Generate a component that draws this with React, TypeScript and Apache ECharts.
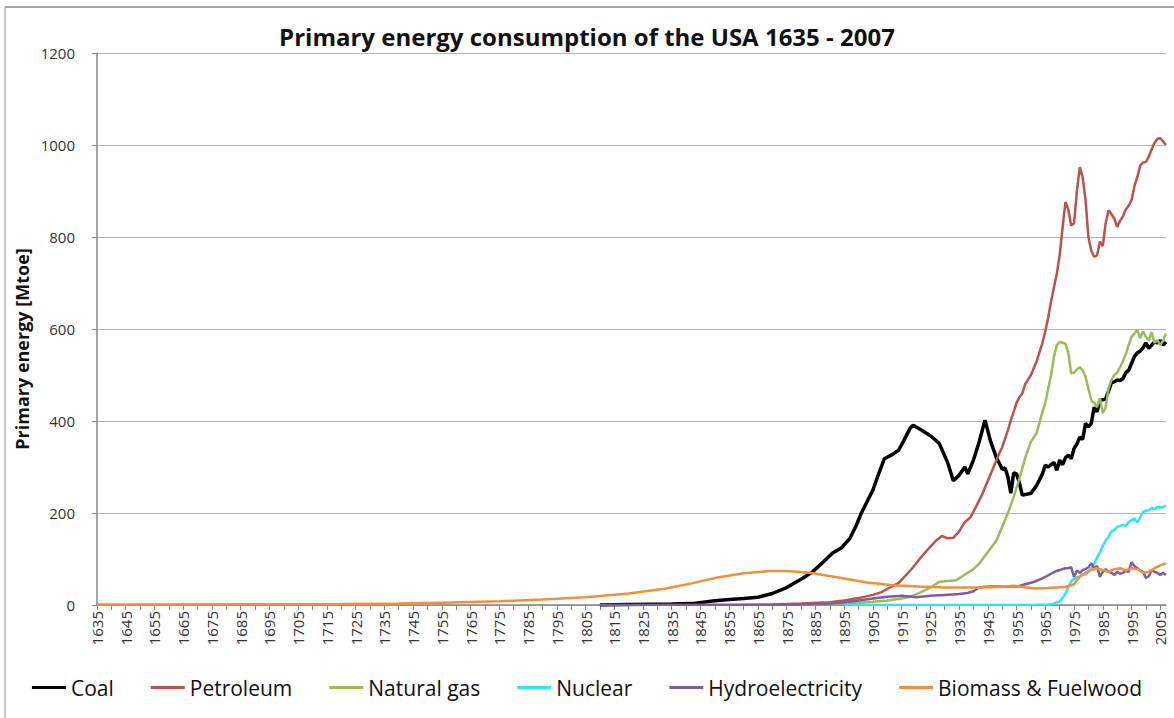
import React, { useEffect, useRef } from "react";
import * as echarts from "echarts";

const seriesNames = ["Coal", "Petroleum", "Natural gas", "Nuclear", "Hydroelectricity", "Biomass & Fuelwood"];
const seriesColors = ["#000000", "#c0504d", "#9bbb59", "#2ee6ef", "#7b5ea3", "#f0903c"];
const yTicks = [0, 200, 400, 600, 800, 1000, 1200];

const coal: [number, number][] = [
  [1810, 0], [1820, 1], [1835, 2], [1842, 3], [1850, 9], [1855, 12], [1860, 14], [1865, 17], [1870, 25],
  [1875, 38], [1880, 56], [1884, 72], [1888, 95], [1891, 113], [1894, 124], [1897, 145], [1899, 170],
  [1901, 200], [1903, 225], [1905, 250], [1907, 285], [1909, 318], [1912, 328], [1914, 337], [1916, 360],
  [1918, 385], [1919, 391], [1922, 380], [1925, 368], [1928, 352], [1931, 310], [1933, 270], [1935, 282],
  [1937, 300], [1938, 285], [1940, 315], [1942, 355], [1944, 402], [1946, 355], [1948, 320], [1949, 308],
  [1950, 295], [1951, 298], [1952, 278], [1953, 243], [1954, 287], [1955, 285], [1956, 265], [1957, 239],
  [1958, 240], [1960, 243], [1962, 260], [1964, 285], [1965, 304], [1966, 300], [1968, 310], [1969, 293],
  [1970, 315], [1971, 305], [1972, 320], [1973, 326], [1974, 318], [1975, 340], [1976, 350], [1977, 365],
  [1978, 360], [1979, 395], [1980, 387], [1981, 395], [1982, 430], [1983, 420], [1984, 445], [1985, 446],
  [1986, 448], [1987, 465], [1988, 483], [1989, 485], [1990, 489], [1991, 488], [1992, 492], [1993, 505],
  [1994, 510], [1995, 525], [1996, 540], [1997, 548], [1998, 552], [1999, 559], [2000, 570], [2001, 558],
  [2002, 565], [2003, 572], [2004, 570], [2005, 575], [2006, 565], [2007, 572],
];

const petroleum: [number, number][] = [
  [1860, 0], [1870, 1], [1880, 3], [1890, 6], [1895, 10], [1900, 15], [1905, 22], [1908, 28], [1911, 38],
  [1914, 48], [1917, 68], [1919, 82], [1921, 98], [1924, 120], [1927, 140], [1929, 150], [1931, 145],
  [1933, 146], [1935, 160], [1937, 180], [1939, 191], [1941, 215], [1943, 240], [1945, 270], [1947, 300],
  [1949, 330], [1950, 343], [1952, 380], [1953, 402], [1954, 420], [1955, 440], [1956, 452], [1957, 460],
  [1958, 480], [1960, 500], [1962, 530], [1964, 570], [1965, 595], [1966, 625], [1967, 660], [1968, 690],
  [1969, 720], [1970, 760], [1971, 820], [1972, 876], [1973, 860], [1974, 825], [1975, 830], [1976, 900],
  [1977, 952], [1978, 930], [1979, 880], [1980, 800], [1981, 770], [1982, 757], [1983, 760], [1984, 790],
  [1985, 780], [1986, 830], [1987, 858], [1988, 850], [1989, 840], [1990, 822], [1991, 835], [1992, 845],
  [1993, 860], [1994, 868], [1995, 880], [1996, 910], [1997, 930], [1998, 955], [1999, 962], [2000, 963],
  [2001, 975], [2002, 990], [2003, 1005], [2004, 1013], [2005, 1015], [2006, 1008], [2007, 1000],
];

const naturalGas: [number, number][] = [
  [1880, 0], [1885, 1], [1890, 3], [1895, 4], [1900, 5], [1905, 7], [1910, 10], [1915, 14], [1918, 18],
  [1921, 26], [1925, 38], [1928, 50], [1931, 52], [1934, 54], [1936, 62], [1938, 70], [1940, 78],
  [1942, 90], [1945, 115], [1948, 140], [1950, 170], [1952, 200], [1954, 235], [1956, 275], [1958, 320],
  [1960, 355], [1962, 374], [1964, 420], [1965, 439], [1966, 470], [1967, 500], [1968, 540], [1969, 565],
  [1970, 572], [1971, 570], [1972, 568], [1973, 548], [1974, 504], [1975, 505], [1976, 512], [1977, 517],
  [1978, 510], [1979, 496], [1980, 470], [1981, 445], [1982, 439], [1983, 430], [1984, 450], [1985, 417],
  [1986, 430], [1987, 470], [1988, 489], [1989, 500], [1990, 505], [1991, 517], [1992, 530], [1993, 545],
  [1994, 565], [1995, 583], [1996, 590], [1997, 598], [1998, 580], [1999, 595], [2000, 583], [2001, 575],
  [2002, 593], [2003, 570], [2004, 576], [2005, 565], [2006, 575], [2007, 590],
];

const nuclear: [number, number][] = [
  [1895, 0], [1957, 0], [1962, 0.5], [1966, 1], [1968, 3], [1969, 6], [1970, 8], [1971, 15], [1972, 25],
  [1973, 38], [1974, 52], [1975, 57], [1976, 60], [1977, 62], [1978, 67], [1979, 66], [1980, 72],
  [1981, 80], [1982, 90], [1983, 103], [1984, 115], [1985, 128], [1986, 140], [1987, 148], [1988, 160],
  [1989, 163], [1990, 170], [1991, 172], [1992, 174], [1993, 172], [1994, 180], [1995, 185], [1996, 188],
  [1997, 180], [1998, 190], [1999, 202], [2000, 205], [2001, 206], [2002, 211], [2003, 208], [2004, 213],
  [2005, 212], [2006, 213], [2007, 216],
];

const hydro: [number, number][] = [
  [1810, 0], [1850, 0.5], [1880, 1], [1890, 3], [1895, 6], [1900, 10], [1905, 14], [1910, 18], [1915, 20],
  [1920, 17], [1925, 20], [1930, 22], [1935, 24], [1938, 26], [1940, 30], [1942, 38], [1945, 40],
  [1950, 40], [1955, 40], [1958, 45], [1961, 50], [1963, 55], [1965, 61], [1967, 68], [1969, 74],
  [1970, 76], [1971, 78], [1972, 80], [1973, 80], [1974, 82], [1975, 61], [1976, 75], [1977, 70],
  [1978, 76], [1979, 78], [1980, 82], [1981, 91], [1982, 80], [1983, 85], [1984, 61], [1985, 72],
  [1986, 78], [1987, 72], [1988, 70], [1989, 65], [1990, 72], [1991, 68], [1992, 70], [1993, 74],
  [1994, 72], [1995, 93], [1996, 85], [1997, 80], [1998, 75], [1999, 72], [2000, 59], [2001, 62],
  [2002, 76], [2003, 72], [2004, 70], [2005, 65], [2006, 70], [2007, 65],
];

const biomass: [number, number][] = [
  [1635, 1], [1700, 1.5], [1720, 2], [1740, 3], [1755, 5], [1775, 8], [1790, 12], [1805, 17], [1820, 25],
  [1833, 36], [1842, 47], [1851, 60], [1860, 69], [1869, 74], [1875, 74], [1883, 70], [1893, 60],
  [1903, 49], [1912, 43], [1921, 40], [1930, 38], [1942, 38], [1949, 39], [1954, 42], [1961, 36],
  [1966, 37], [1972, 39], [1975, 45], [1977, 62], [1980, 74], [1983, 80], [1985, 76], [1987, 72],
  [1989, 78], [1991, 80], [1993, 75], [1995, 80], [1997, 78], [1999, 70], [2001, 72], [2003, 80],
  [2005, 86], [2007, 91],
];

const seriesData = [coal, petroleum, naturalGas, nuclear, hydro, biomass];
const lineWidths = [3.5, 2.5, 2.5, 2.5, 2.5, 2.5];

const FONT = "'Open Sans', 'Noto Sans', sans-serif";

export default function App() {
  const ref = useRef<HTMLDivElement>(null);
  useEffect(() => {
    document.body.style.margin = "0";
    const chart = echarts.init(ref.current!, undefined, { renderer: "svg" });
    chart.setOption({
      animation: false,
      backgroundColor: "#ffffff",
      textStyle: { fontFamily: FONT },
      title: {
        text: "Primary energy consumption of the USA 1635 - 2007",
        left: "center",
        top: 19,
        textStyle: { fontFamily: FONT, fontSize: 24, fontWeight: "bold", color: "#111111" },
      },
      graphic: [
        { type: "line", shape: { x1: 5, y1: 7, x2: 1174, y2: 7 }, style: { stroke: "#a6a6a6", lineWidth: 2 } },
        { type: "line", shape: { x1: 5, y1: 7, x2: 5, y2: 718 }, style: { stroke: "#b3b3b3", lineWidth: 1.5 } },
        {
          type: "text",
          x: 22,
          y: 349,
          rotation: Math.PI / 2,
          style: {
            text: "Primary energy [Mtoe]",
            fontFamily: FONT,
            fontSize: 18,
            fontWeight: "bold",
            fill: "#111111",
            textAlign: "center",
            textVerticalAlign: "middle",
          },
        },
      ],
      legend: {
        data: seriesNames,
        bottom: 15,
        left: "center",
        icon: "rect",
        itemWidth: 34,
        itemHeight: 3,
        itemGap: 37,
        textStyle: { fontFamily: FONT, fontSize: 21, color: "#111111" },
      },
      grid: { left: 97, right: 8, top: 53, bottom: 113, containLabel: false },
      xAxis: {
        type: "value",
        min: 1635,
        max: 2007,
        interval: 5,
        axisLine: { show: true, lineStyle: { color: "#868686", width: 1.5 } },
        axisTick: { show: true, length: 5, lineStyle: { color: "#868686" } },
        splitLine: { show: false },
        axisLabel: {
          rotate: 90,
          fontSize: 15,
          color: "#333333",
          fontFamily: FONT,
          margin: 6,
          showMaxLabel: false,
          formatter: (v: number) => ((v - 1635) % 10 === 0 ? String(v) : ""),
        },
      },
      yAxis: {
        type: "value",
        min: yTicks[0],
        max: yTicks[yTicks.length - 1],
        interval: 200,
        axisLine: { show: true, lineStyle: { color: "#868686", width: 1.5 } },
        axisTick: { show: true, length: 5, lineStyle: { color: "#868686" } },
        splitLine: { show: true, lineStyle: { color: "#b5b5b5", width: 1.2 } },
        axisLabel: {
          fontSize: 15,
          color: "#333333",
          fontFamily: FONT,
          margin: 22,
          formatter: (v: number) => String(v),
        },
      },
      series: seriesNames.map((name, i) => ({
        name,
        type: "line",
        data: seriesData[i],
        showSymbol: false,
        symbol: "none",
        smooth: false,
        color: seriesColors[i],
        lineStyle: { color: seriesColors[i], width: lineWidths[i] },
        z: 2 + i,
      })),
    });
    return () => chart.dispose();
  }, []);
  return (
    <div
      ref={ref}
      style={{ position: "absolute", left: 0, top: 0, width: 1174, height: 718, background: "#fff" }}
    />
  );
}
